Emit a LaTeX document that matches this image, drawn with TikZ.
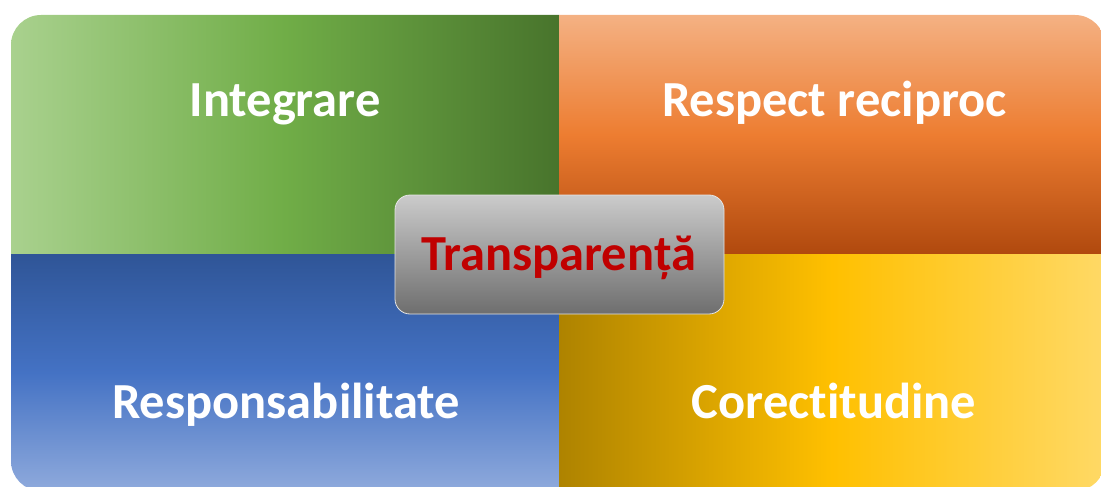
\documentclass[tikz,border=0pt]{standalone}
\usepackage{fontspec}
\setmainfont{Carlito}[Ligatures=NoCommon]
\definecolor{gL}{HTML}{A9D18E}\definecolor{gM}{HTML}{70AD47}\definecolor{gR}{HTML}{48742C}
\definecolor{oT}{HTML}{F4B183}\definecolor{oM}{HTML}{ED7D31}\definecolor{oB}{HTML}{B0490E}
\definecolor{bT}{HTML}{2F5597}\definecolor{bM}{HTML}{4472C4}\definecolor{bB}{HTML}{8FAADC}
\definecolor{yL}{HTML}{AE8300}\definecolor{yM}{HTML}{FFC000}\definecolor{yR}{HTML}{FFD966}
\definecolor{cT}{HTML}{CBCBCB}\definecolor{cB}{HTML}{6E6E6E}
\definecolor{tred}{HTML}{C00000}
\tikzset{
  quadlabel/.style={text=white, font=\bfseries\fontsize{50.5}{60}\selectfont, inner sep=0pt, anchor=base},
  centerbox/.style={rounded corners=15pt, minimum width=329pt, minimum height=119pt,
    top color=cT, bottom color=cB, draw=white!80!gray, line width=0.8pt},
  centerlabel/.style={text=tred, font=\bfseries\fontsize{50.5}{60}\selectfont, inner sep=0pt, anchor=base}
}
\begin{document}
\begin{tikzpicture}[x=1pt,y=-1pt]
\useasboundingbox (0,0) rectangle (1101,487);
\begin{scope}
  \clip[rounded corners=30pt] (11,15) rectangle (1105,491);
  \shade[left color=gL, right color=gR, middle color=gM] (11,15) rectangle (559,254);
  \shade[top color=oT, bottom color=oB, middle color=oM] (559,15) rectangle (1105,254);
  \shade[top color=bT, bottom color=bB, middle color=bM] (11,254) rectangle (559,491);
  \shade[left color=yL, right color=yR, middle color=yM] (559,254) rectangle (1105,491);
\end{scope}
\node[quadlabel] (integ) at (285,117) {Integrare};
\node[quadlabel] (resp) at (834.5,117) {Respect reciproc};
\node[quadlabel] (respons) at (286,418) {Responsabilitate};
\node[quadlabel] (corect) at (834,418) {Corectitudine};
\node[centerbox] (box) at (559.5,254.5) {};
\node[centerlabel] (transp) at (558.5,270) {Transparență};
\end{tikzpicture}
\end{document}
